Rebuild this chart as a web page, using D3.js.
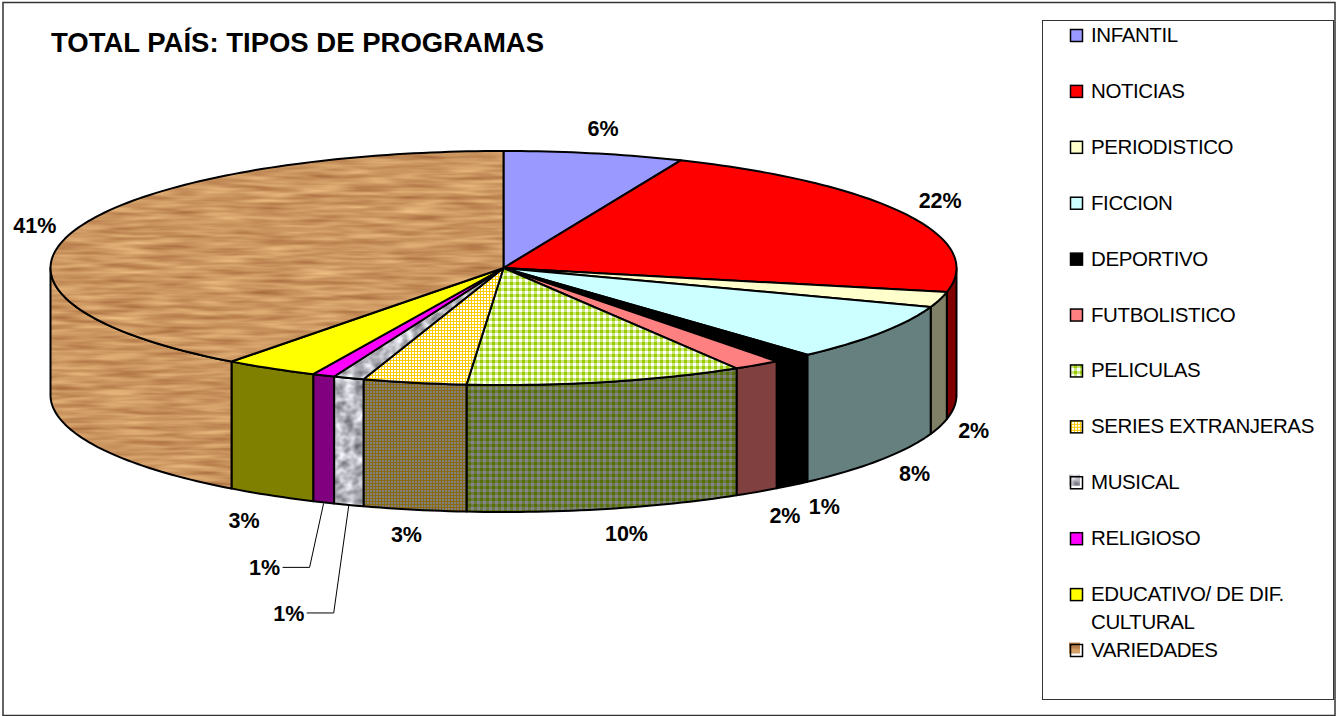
<!DOCTYPE html>
<html><head><meta charset="utf-8">
<style>html,body{margin:0;padding:0;background:#fff}svg{display:block}text{font-family:"Liberation Sans",Arial,sans-serif}</style>
<script src="https://cdn.jsdelivr.net/npm/d3@7/dist/d3.min.js"></script>
</head><body>
<svg id="c" width="1337" height="716"></svg>
<script>
const title = "TOTAL PAÍS: TIPOS DE PROGRAMAS";
const categories = ["INFANTIL","NOTICIAS","PERIODISTICO","FICCION","DEPORTIVO","FUTBOLISTICO","PELICULAS","SERIES EXTRANJERAS","MUSICAL","RELIGIOSO","EDUCATIVO/ DE DIF. CULTURAL","VARIEDADES"];
const values = [6.4,21.9,2.1,7.9,1.4,1.7,9.9,3.7,1.1,0.8,3.35,39.75];
const valueLabels = ["6%","22%","2%","8%","1%","2%","10%","3%","1%","1%","3%","41%"];

// presentation (kept apart from the data)
const topFills = ["#9999ff","#ff0000","#ffffcc","#ccffff","#000000","#ff8080","url(#pel)","url(#ser)","url(#gra)","#ff00ff","#ffff00","url(#wood)"];
const sideFills = ["#4d4d80","#800000","#808066","#668080","#000000","#804040","url(#pelD)","url(#serD)","url(#gra)","#800080","#808000","url(#wood)"];
const labelNudge = [[9,-25],[35,-14],[34,4],[34,13],[32,21],[28,23],[20,24],[-8,25],[-60,108],[-59,65],[-27,25],[-39,-6]];
const leaderFor = [8,9];
const offsetSwatches = [8,11];

const W=1337,H=716, cx=503.5, cy=268, rx=453, ry=117, depth=127;
const svg=d3.select("#c");
const defs=svg.append("defs");

function tex(id,size,bg,cells){
  const p=defs.append("pattern").attr("id",id).attr("patternUnits","userSpaceOnUse").attr("width",size).attr("height",size);
  p.append("rect").attr("width",size).attr("height",size).attr("fill",bg);
  cells.forEach(c=>p.append("rect").attr("x",c[0]).attr("y",c[1]).attr("width",c[2]).attr("height",c[3]).attr("fill",c[4]));
}
tex("pel",6,"#cbe67a",[[0,0,3,3,"#99cc00"],[3,3,3,3,"#ffffff"]]);
tex("pelD",6,"#6c7a48",[[0,0,3,3,"#557000"],[3,3,3,3,"#858585"]]);
tex("ser",3,"#ffcc00",[[1,1,2,2,"#ffffff"]]);
tex("serD",3,"#8a6a10",[[1,1,2,2,"#808080"]]);

function noise(id,freq,oct,seed,m){
  const f=defs.append("filter").attr("id",id).attr("x",0).attr("y",0).attr("width","100%").attr("height","100%")
    .attr("color-interpolation-filters","sRGB");
  f.append("feTurbulence").attr("type","fractalNoise").attr("baseFrequency",freq).attr("numOctaves",oct).attr("seed",seed).attr("stitchTiles","stitch");
  f.append("feColorMatrix").attr("type","matrix").attr("values",m);
}
noise("fWood","0.02 0.2",2,7,"0.34 0 0 0 0.63  0.40 0 0 0 0.39  0.34 0 0 0 0.21  0 0 0 0 1");
noise("fGra","0.1 0.12",2,4,"0.85 0 0 0 0.30  0.85 0 0 0 0.30  0.85 0 0 0 0.33  0 0 0 0 1");
[["wood","fWood",1337,716],["gra","fGra",128,128]].forEach(([id,fl,w,h])=>{
  const p=defs.append("pattern").attr("id",id).attr("patternUnits","userSpaceOnUse").attr("width",w).attr("height",h);
  p.append("rect").attr("width",w).attr("height",h).attr("filter",`url(#${fl})`);
});

// frame
svg.append("rect").attr("x",3).attr("y",2.5).attr("width",1332).attr("height",713).attr("fill","#fff").attr("stroke","#333").attr("stroke-width",1.5);

// scales: unit circle -> squashed ellipse on the page
const X=d3.scaleLinear().domain([-1,1]).range([cx-rx,cx+rx]);
const Y=d3.scaleLinear().domain([-1,1]).range([cy-ry,cy+ry]);
const px=a=>X(Math.sin(a)), py=a=>Y(-Math.cos(a));
const line=d3.line();
const arcs=d3.pie().sort(null).value(d=>d)(values);
const STEP=0.02;
const sweep=(a,b)=>{const n=Math.max(1,Math.ceil((b-a)/STEP));return d3.range(n+1).map(i=>a+(b-a)*i/n);};

const gChart=svg.append("g").attr("stroke","#000").attr("stroke-width",2).attr("stroke-linejoin","round");

// side wall (only the front half of the rim is visible)
const PI=Math.PI;
gChart.selectAll("path.side").data(arcs.filter(d=>d.endAngle>PI/2&&d.startAngle<3*PI/2)).join("path").attr("class","side")
  .attr("fill",d=>sideFills[d.index])
  .attr("d",d=>{
    const s=sweep(Math.max(d.startAngle,PI/2),Math.min(d.endAngle,3*PI/2));
    const up=s.map(a=>[px(a),py(a)]);
    const lo=s.slice().reverse().map(a=>[px(a),py(a)+depth]);
    return line(up.concat(lo))+"Z";
  });

// top face
gChart.selectAll("path.top").data(arcs).join("path").attr("class","top")
  .attr("fill",d=>topFills[d.index])
  .attr("d",d=>line([[cx,cy]].concat(sweep(d.startAngle,d.endAngle).map(a=>[px(a),py(a)])))+"Z");

// value labels and leaders
const labelPos=arcs.map(d=>{
  const m=(d.startAngle+d.endAngle)/2, front=Math.cos(m)<0;
  const bx=px(m), by=py(m)+(front?depth:0), n=labelNudge[d.index];
  return {i:d.index,bx,by,x:bx+n[0],y:by+n[1]};
});
svg.append("g").attr("fill","none").attr("stroke","#000").attr("stroke-width",1)
  .selectAll("path").data(labelPos.filter(l=>leaderFor.includes(l.i))).join("path")
  .attr("d",l=>line([[l.bx,l.by+1],[l.x+45,l.y],[l.x+18,l.y]]));
svg.append("g").selectAll("text").data(labelPos).join("text")
  .attr("x",l=>l.x).attr("y",l=>l.y).attr("dy","0.36em").attr("text-anchor","middle")
  .attr("font-size",21.5).attr("font-weight","bold").attr("fill","#000")
  .text(l=>valueLabels[l.i]);

// title
svg.append("text").attr("x",51).attr("y",51.5).attr("font-size",27.5).attr("font-weight","bold").attr("fill","#000").text(title);

// legend
svg.append("rect").attr("x",1042.5).attr("y",20.5).attr("width",291).attr("height",679).attr("fill","#fff").attr("stroke","#333").attr("stroke-width",1);
const LY=d3.scaleLinear().domain([0,11]).range([35.5,650.5]);
const lg=svg.append("g").selectAll("g").data(categories).join("g").attr("transform",(d,i)=>`translate(0,${LY(i)})`);
lg.filter((d,i)=>offsetSwatches.includes(i)).append("rect").attr("x",1069).attr("y",-8).attr("width",11).attr("height",11)
  .attr("fill",d=>topFills[categories.indexOf(d)]);
lg.append("rect").attr("x",1070.5).attr("y",-6).attr("width",12).attr("height",12)
  .attr("fill",(d,i)=>offsetSwatches.includes(i)?"none":topFills[i]).attr("stroke","#000").attr("stroke-width",1.5);
lg.append("text").attr("x",1091).attr("font-size",20.5).attr("letter-spacing",-0.4).attr("fill","#000")
  .each(function(d){
    const t=d3.select(this);
    const parts=d==="EDUCATIVO/ DE DIF. CULTURAL"?["EDUCATIVO/ DE DIF.","CULTURAL"]:[d];
    parts.forEach((s,k)=>t.append("tspan").attr("x",1091).attr("y",6.5+k*28).text(s));
  });
</script>
</body></html>
